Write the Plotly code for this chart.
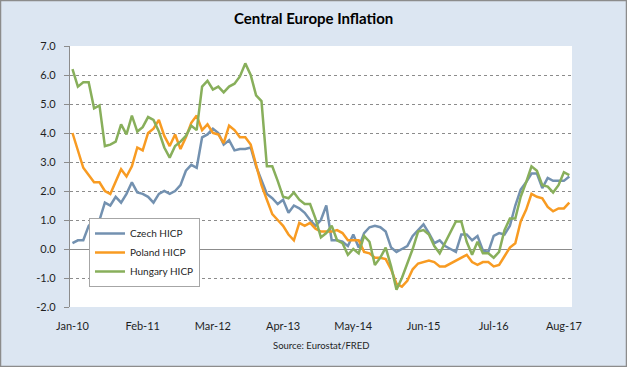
import plotly.graph_objects as go

# ---------------- data (annual HICP inflation, %) Jan-10 .. Sep-17 ----------------
czech_hicp = [
    0.2, 0.3, 0.3, 0.8, 1.0, 1.0, 1.6, 1.5, 1.8, 1.6, 1.9, 2.3,
    1.95, 1.9, 1.8, 1.6, 1.9, 2.0, 1.9, 2.0, 2.2, 2.7, 2.9, 2.8,
    3.85, 3.95, 4.15, 4.0, 3.6, 3.75, 3.4, 3.45, 3.45, 3.5, 2.85, 2.4,
    1.9, 1.75, 1.55, 1.7, 1.25, 1.5, 1.4, 1.25, 1.0, 0.8, 1.0, 1.5,
    0.3, 0.3, 0.25, 0.1, 0.5, 0.05, 0.55, 0.75, 0.8, 0.75, 0.6, 0.05,
    -0.1, 0.0, 0.1, 0.45, 0.65, 0.85, 0.55, 0.2, 0.3, 0.1, 0.0, -0.1,
    0.5, 0.5, 0.3, 0.45, -0.05, -0.1, 0.45, 0.55, 0.5, 0.8, 1.5, 2.05,
    2.3, 2.6, 2.6, 2.1, 2.45, 2.35, 2.35, 2.35, 2.5,
]
poland_hicp = [
    4.0, 3.4, 2.8, 2.55, 2.3, 2.3, 2.0, 1.9, 2.35, 2.75, 2.5, 2.85,
    3.5, 3.4, 4.0, 4.15, 4.45, 3.9, 3.55, 3.95, 3.45, 3.85, 4.35, 4.6,
    4.1, 4.3, 4.0, 3.95, 3.65, 4.25, 4.1, 3.85, 3.85, 3.6, 2.9, 2.2,
    1.7, 1.2, 1.0, 0.8, 0.5, 0.3, 0.9, 0.8, 0.9, 0.7, 0.6, 0.6,
    0.6, 0.65, 0.55, 0.3, 0.3, 0.3, -0.1, -0.15, -0.3, -0.3, -0.35, -0.7,
    -1.2, -1.3, -1.1, -0.7, -0.5, -0.45, -0.4, -0.45, -0.6, -0.6, -0.5, -0.4,
    -0.3, -0.2, -0.45, -0.55, -0.45, -0.45, -0.6, -0.55, -0.25, 0.05, 0.2, 0.95,
    1.35, 1.9, 1.8, 1.75, 1.45, 1.3, 1.4, 1.4, 1.6,
]
hungary_hicp = [
    6.2, 5.6, 5.75, 5.75, 4.85, 4.95, 3.55, 3.6, 3.7, 4.3, 3.95, 4.6,
    4.05, 4.2, 4.55, 4.45, 4.05, 3.5, 3.15, 3.55, 3.7, 3.9, 4.25, 4.1,
    5.6, 5.8, 5.5, 5.6, 5.4, 5.6, 5.7, 5.95, 6.4, 6.0, 5.3, 5.1,
    2.85, 2.85, 2.35, 1.8, 1.75, 1.95, 1.7, 1.55, 1.55, 1.05, 0.4, 0.55,
    0.8, 0.3, 0.2, -0.2, 0.0, -0.15, 0.45, 0.25, -0.55, -0.3, 0.05, -0.6,
    -1.4, -1.0, -0.5, 0.0, 0.6, 0.65, 0.5, 0.1, -0.15, 0.2, 0.6, 0.95,
    0.95, 0.25, -0.2, 0.25, -0.15, -0.15, -0.3, -0.1, 0.65, 1.05, 1.05, 1.8,
    2.3, 2.85, 2.7, 2.2, 2.15, 1.95, 2.2, 2.65, 2.55,
]
month_index = list(range(len(czech_hicp)))  # 0 = Jan-10 ... 92 = Sep-17

x_tick_values = [0, 13, 26, 39, 52, 65, 78, 91]
x_tick_labels = ["Jan-10", "Feb-11", "Mar-12", "Apr-13", "May-14", "Jun-15", "Jul-16", "Aug-17"]
y_tick_values = [-2, -1, 0, 1, 2, 3, 4, 5, 6, 7]
y_tick_labels = ["-2.0", "-1.0", "0.0", "1.0", "2.0", "3.0", "4.0", "5.0", "6.0", "7.0"]

series_names = ["Czech HICP", "Poland HICP", "Hungary HICP"]
series_values = [czech_hicp, poland_hicp, hungary_hicp]
series_colors = ["#7391B0", "#F89B22", "#88AF5B"]

# ---------------- layout constants ----------------
W, H = 627, 367
L, R, T, B = 70, 55, 46, 60
plot_w = W - L - R
plot_h = H - T - B
FONT = "Lato, 'Open Sans', 'DejaVu Sans', sans-serif"
GRID = "#8C8C8C"
TEXT = "#1F1F1F"

fig = go.Figure()
for name, vals, col in zip(series_names, series_values, series_colors):
    fig.add_trace(go.Scatter(
        x=month_index, y=vals, name=name, mode="lines",
        line=dict(color=col, width=2.5),
    ))


def px_x(px):
    return (px - L) / plot_w


def px_y(py):
    return (H - B - py) / plot_h


annotations = [
    dict(
        text="<b>Central Europe Inflation</b>", xref="paper", yref="paper",
        x=px_x(313), y=px_y(18), xanchor="center", yanchor="middle",
        showarrow=False, font=dict(family=FONT, size=15, color="#000000"),
    ),
    dict(
        text="Source: Eurostat/FRED", xref="paper", yref="paper",
        x=px_x(321), y=px_y(345), xanchor="center", yanchor="middle",
        showarrow=False, font=dict(family=FONT, size=9.5, color=TEXT),
    ),
]

fig.update_layout(
    width=W, height=H,
    margin=dict(l=L, r=R, t=T, b=B, pad=0),
    paper_bgcolor="#DCE6F2",
    plot_bgcolor="#FFFFFF",
    xaxis=dict(
        range=[-0.46, 92.5], tickvals=x_tick_values, ticktext=x_tick_labels,
        showgrid=False, zeroline=False, showline=False, ticks="",
        tickfont=dict(family=FONT, size=11, color=TEXT),
        ticklabelstandoff=11,
        fixedrange=True,
    ),
    yaxis=dict(
        range=[-2, 7], tickvals=y_tick_values, ticktext=y_tick_labels,
        showgrid=True, gridcolor=GRID, gridwidth=1, griddash="dot",
        zeroline=True, zerolinecolor=GRID, zerolinewidth=1.2,
        showline=True, linecolor=GRID, linewidth=1.2,
        ticks="outside", ticklen=5, tickcolor=GRID, tickwidth=1,
        tickfont=dict(family=FONT, size=11, color=TEXT),
        ticklabelstandoff=6,
    ),
    legend=dict(
        x=px_x(89), y=px_y(218), xanchor="left", yanchor="top",
        bgcolor="#FFFFFF", bordercolor="#A6A6A6", borderwidth=1,
        font=dict(family=FONT, size=10, color=TEXT),
        tracegroupgap=0,
    ),
    annotations=annotations,
    shapes=[dict(
        type="rect", xref="paper", yref="paper",
        x0=px_x(0.5), x1=px_x(W - 0.5), y0=px_y(H - 0.5), y1=px_y(0.5),
        line=dict(color="#8C8C8C", width=1.5), fillcolor="rgba(0,0,0,0)",
        layer="above",
    )],
    showlegend=True,
)

fig.write_html(
    "out.html",
    config={"displayModeBar": False},
    post_script="document.body.style.margin='0';document.body.style.padding='0';",
)
